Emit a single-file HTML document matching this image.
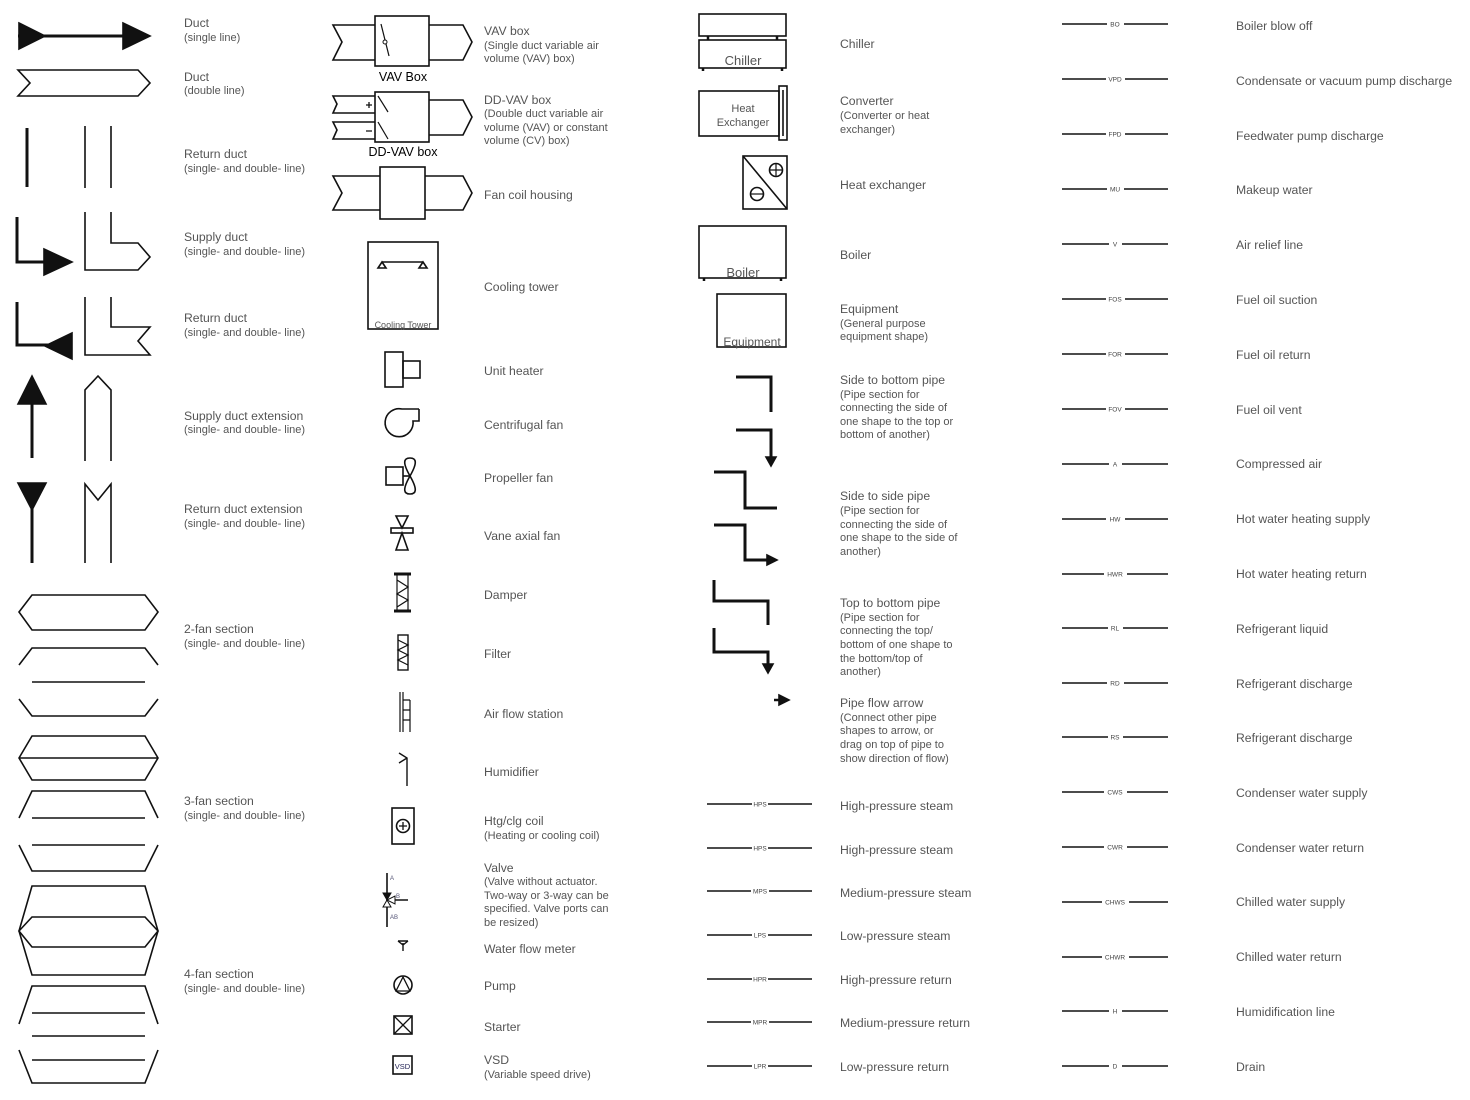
<!DOCTYPE html>
<html><head><meta charset="utf-8"><style>
html,body{margin:0;padding:0;background:#fff;}
svg{display:block;font-family:"Liberation Sans",sans-serif;}
.t{font-size:12.2px;fill:#555;}
.s{font-size:11px;fill:#555;}
.l{font-size:6.5px;fill:#444;text-anchor:middle;}
</style></head><body>
<svg width="1470" height="1100" viewBox="0 0 1470 1100" xmlns="http://www.w3.org/2000/svg">
<g fill="none" stroke="#111" stroke-width="1.6">
<line x1="18" y1="36" x2="128" y2="36" stroke-width="3"/>
<polygon points="19,23 45,36 19,49" fill="#111"/>
<polygon points="123,23 150,36 123,49" fill="#111"/>
<polygon points="18,70 138,70 150,83 138,96 18,96 30,83"/>
<line x1="27" y1="128" x2="27" y2="187" stroke-width="3"/>
<line x1="85" y1="126" x2="85" y2="188"/><line x1="111" y1="126" x2="111" y2="188"/>
<path d="M17 217 V262 H50" stroke-width="3"/>
<polygon points="44,249 72,262 44,275" fill="#111"/>
<path d="M85 212 V270 H138 L150 257 L138 243 H111 V212"/>
<path d="M17 302 V345 H50" stroke-width="3"/>
<polygon points="72,333 45,346 72,359" fill="#111"/>
<path d="M85 297 V355 H150 L138 341 L150 327 H111 V297"/>
<line x1="32" y1="395" x2="32" y2="458" stroke-width="3"/>
<polygon points="18,404 32,376 46,404" fill="#111"/>
<path d="M85 461 V390 L98 376 L111 390 V461"/>
<line x1="32" y1="500" x2="32" y2="563" stroke-width="3"/>
<polygon points="18,483 46,483 32,510" fill="#111"/>
<path d="M85 563 V484 L98 500 L111 484 V563"/>
<polygon points="19,612 32,595 145,595 158,612 145,630 32,630"/>
<polyline points="19,665 32,648 145,648 158,665"/>
<line x1="32" y1="682" x2="145" y2="682"/>
<polyline points="19,699 32,716 145,716 158,699"/>
<polygon points="19,758 32,736 145,736 158,758 145,780 32,780"/>
<line x1="19" y1="758" x2="158" y2="758"/>
<polyline points="19,818 32,791 145,791 158,818"/>
<line x1="32" y1="818" x2="145" y2="818"/><line x1="32" y1="845" x2="145" y2="845"/>
<polyline points="19,845 32,871 145,871 158,845"/>
<polygon points="32,886 145,886 158,931 145,975 32,975 19,931"/>
<polygon points="19,931 32,917 145,917 158,931 145,947 32,947"/>
<polyline points="19,1024 32,986 145,986 158,1024"/>
<line x1="32" y1="1013" x2="145" y2="1013"/><line x1="32" y1="1036" x2="145" y2="1036"/><line x1="32" y1="1060" x2="145" y2="1060"/>
<polyline points="19,1050 32,1083 145,1083 158,1050"/>
<path d="M375 25 H333 L342 42 L333 60 H375"/><rect x="375" y="16" width="54" height="50"/>
<path d="M429 25 H463 L472 42 L463 60 H429"/>
<line x1="381" y1="24" x2="389" y2="56" stroke-width="1.2"/><circle cx="385" cy="42" r="2" fill="#fff" stroke-width="1"/>
<path d="M375 96 H333 L337 104 L333 113 H375 M375 122 H333 L337 130 L333 139 H375"/>
<rect x="375" y="92" width="54" height="50"/>
<path d="M429 100 H463 L472 117 L463 135 H429"/>
<line x1="378" y1="96" x2="388" y2="112" stroke-width="1.2"/><line x1="378" y1="122" x2="388" y2="139" stroke-width="1.2"/>
<path d="M366 105 h6 M369 102 v6 M366 131 h6" stroke-width="1.3"/>
<path d="M380 176 H333 L342 193 L333 210 H380"/><rect x="380" y="167" width="45" height="52"/>
<path d="M425 176 H463 L472 193 L463 210 H425"/>
<rect x="368" y="242" width="70" height="87"/>
<line x1="382" y1="262" x2="423" y2="262"/>
<polygon points="382,262 378,268 386,268"/><polygon points="423,262 419,268 427,268"/>
<rect x="385" y="352" width="18" height="35"/><rect x="403" y="361" width="17" height="17"/>
<path d="M419 409 V421 H413 A14 14 0 1 1 402 409 H419"/>
<rect x="386" y="467" width="17" height="18"/><line x1="403" y1="476" x2="410" y2="476"/>
<path d="M410 476 C402 462 404 458 410 458 C416 458 418 462 410 476 C402 490 404 494 410 494 C416 494 418 490 410 476"/>
<polygon points="396,516 408,516 402,528"/><rect x="391" y="528" width="22" height="5"/><polygon points="402,533 396,550 408,550"/>
<path d="M394 574 H411 M394 611 H411" stroke-width="3"/>
<path d="M397 574 V611 M408 574 V611 M397 580 L408 587 L397 594 L408 600 L397 607" stroke-width="1.2"/>
<rect x="398" y="635" width="10" height="35" stroke-width="1.4"/>
<path d="M398 640 L408 645 L398 650 L408 655 L398 660 L408 665" stroke-width="1.2"/>
<path d="M400 692 V732 M403 692 V732 M403 700 H410 M403 710 H410 M403 720 H410 M410 700 V732" stroke-width="1.2"/>
<path d="M407 786 V758 L399 753 M407 758 L399 763" stroke-width="1.4"/>
<rect x="392" y="808" width="22" height="36"/><circle cx="403" cy="826" r="6.5"/><path d="M399 826 h8 M403 822 v8" stroke-width="1.3"/>
<line x1="387" y1="873" x2="387" y2="927"/><line x1="387" y1="900" x2="408" y2="900"/>
<polygon points="383,893 391,893 387,900" fill="#111" stroke-width="1"/>
<polygon points="383,907 391,907 387,900" fill="#fff" stroke-width="1"/>
<polygon points="395,896 395,904 387,900" fill="#fff" stroke-width="1"/>
<path d="M403 951 V943 M398 941 H408 M398 941 L403 945 L408 941" stroke-width="1.4"/>
<circle cx="403" cy="985" r="9"/><polygon points="403,977 396,991 410,991" stroke-width="1.3"/>
<rect x="394" y="1016" width="18" height="18"/><path d="M394 1016 L412 1034 M412 1016 L394 1034" stroke-width="1.3"/>
<rect x="393" y="1056" width="19" height="18"/>
<rect x="699" y="14" width="87" height="22"/><rect x="699" y="40" width="87" height="28"/>
<path d="M708 36 V40 M777 36 V40 M703 68 V71 M782 68 V71" stroke-width="2.5"/>
<rect x="699" y="91" width="80" height="45"/><rect x="779" y="86" width="8" height="54"/><line x1="783" y1="90" x2="783" y2="136"/>
<rect x="743" y="156" width="44" height="53"/><line x1="743" y1="156" x2="787" y2="209"/>
<circle cx="776" cy="170" r="6.5"/><path d="M770 170 h12 M776 164 v12" stroke-width="1.2"/>
<circle cx="757" cy="194" r="6.5"/><path d="M751 194 h12" stroke-width="1.2"/>
<rect x="699" y="226" width="87" height="52"/><path d="M704 278 V281 M781 278 V281" stroke-width="2.5"/>
<rect x="717" y="294" width="69" height="53"/>
<g stroke-width="3">
<path d="M736 377 H771 V412"/>
<path d="M736 430 H771 V458"/>
<path d="M714 472 H745 V508 H777"/>
<path d="M714 525 H745 V560 H768"/>
<path d="M714 580 V601 H768 V625"/>
<path d="M714 628 V652 H768 V665"/>
</g>
<polygon points="766,457 776,457 771,466" fill="#111"/>
<polygon points="767,555 777,560 767,565" fill="#111"/>
<polygon points="763,664 773,664 768,673" fill="#111"/>
<line x1="774" y1="700" x2="780" y2="700" stroke-width="2.5"/><polygon points="779,695 789,700 779,705" fill="#111"/>
</g>
<g stroke="#111" stroke-width="1.6">
<line x1="707" y1="804" x2="752" y2="804"/><line x1="768" y1="804" x2="812" y2="804"/>
<line x1="707" y1="848" x2="752" y2="848"/><line x1="768" y1="848" x2="812" y2="848"/>
<line x1="707" y1="891" x2="751" y2="891"/><line x1="769" y1="891" x2="812" y2="891"/>
<line x1="707" y1="935" x2="752" y2="935"/><line x1="768" y1="935" x2="812" y2="935"/>
<line x1="707" y1="979" x2="752" y2="979"/><line x1="768" y1="979" x2="812" y2="979"/>
<line x1="707" y1="1022" x2="751" y2="1022"/><line x1="769" y1="1022" x2="812" y2="1022"/>
<line x1="707" y1="1066" x2="752" y2="1066"/><line x1="768" y1="1066" x2="812" y2="1066"/>
<line x1="1062" y1="24" x2="1107" y2="24"/><line x1="1124" y1="24" x2="1168" y2="24"/>
<line x1="1062" y1="79" x2="1106" y2="79"/><line x1="1125" y1="79" x2="1168" y2="79"/>
<line x1="1062" y1="134" x2="1106" y2="134"/><line x1="1125" y1="134" x2="1168" y2="134"/>
<line x1="1062" y1="189" x2="1107" y2="189"/><line x1="1124" y1="189" x2="1168" y2="189"/>
<line x1="1062" y1="244" x2="1109" y2="244"/><line x1="1122" y1="244" x2="1168" y2="244"/>
<line x1="1062" y1="299" x2="1106" y2="299"/><line x1="1125" y1="299" x2="1168" y2="299"/>
<line x1="1062" y1="354" x2="1106" y2="354"/><line x1="1125" y1="354" x2="1168" y2="354"/>
<line x1="1062" y1="409" x2="1106" y2="409"/><line x1="1125" y1="409" x2="1168" y2="409"/>
<line x1="1062" y1="464" x2="1109" y2="464"/><line x1="1122" y1="464" x2="1168" y2="464"/>
<line x1="1062" y1="519" x2="1106" y2="519"/><line x1="1125" y1="519" x2="1168" y2="519"/>
<line x1="1062" y1="574" x2="1104" y2="574"/><line x1="1127" y1="574" x2="1168" y2="574"/>
<line x1="1062" y1="628" x2="1108" y2="628"/><line x1="1123" y1="628" x2="1168" y2="628"/>
<line x1="1062" y1="683" x2="1107" y2="683"/><line x1="1124" y1="683" x2="1168" y2="683"/>
<line x1="1062" y1="737" x2="1108" y2="737"/><line x1="1123" y1="737" x2="1168" y2="737"/>
<line x1="1062" y1="792" x2="1104" y2="792"/><line x1="1127" y1="792" x2="1168" y2="792"/>
<line x1="1062" y1="847" x2="1104" y2="847"/><line x1="1127" y1="847" x2="1168" y2="847"/>
<line x1="1062" y1="902" x2="1102" y2="902"/><line x1="1129" y1="902" x2="1168" y2="902"/>
<line x1="1062" y1="957" x2="1102" y2="957"/><line x1="1129" y1="957" x2="1168" y2="957"/>
<line x1="1062" y1="1011" x2="1109" y2="1011"/><line x1="1122" y1="1011" x2="1168" y2="1011"/>
<line x1="1062" y1="1066" x2="1109" y2="1066"/><line x1="1122" y1="1066" x2="1168" y2="1066"/>
</g>
<g class="l">
<text x="760" y="806.5">HPS</text><text x="760" y="850.5">HPS</text><text x="760" y="893.5">MPS</text><text x="760" y="937.5">LPS</text><text x="760" y="981.5">HPR</text><text x="760" y="1024.5">MPR</text><text x="760" y="1068.5">LPR</text>
<text x="1115" y="26.5">BO</text><text x="1115" y="81.5">VPD</text><text x="1115" y="136.5">FPD</text><text x="1115" y="191.5">MU</text><text x="1115" y="246.5">V</text><text x="1115" y="301.5">FOS</text><text x="1115" y="356.5">FOR</text><text x="1115" y="411.5">FOV</text><text x="1115" y="466.5">A</text><text x="1115" y="521.5">HW</text><text x="1115" y="576.5">HWR</text><text x="1115" y="630.5">RL</text><text x="1115" y="685.5">RD</text><text x="1115" y="739.5">RS</text><text x="1115" y="794.5">CWS</text><text x="1115" y="849.5">CWR</text><text x="1115" y="904.5">CHWS</text><text x="1115" y="959.5">CHWR</text><text x="1115" y="1013.5">H</text><text x="1115" y="1068.5">D</text>
</g>
<text x="403" y="81" font-size="12.5" text-anchor="middle" fill="#000">VAV Box</text>
<text x="403" y="156" font-size="12.5" text-anchor="middle" fill="#000">DD-VAV box</text>
<text x="403" y="328" font-size="9" text-anchor="middle" fill="#555">Cooling Tower</text>
<text x="390" y="880" font-size="6" fill="#557">A</text><text x="396" y="898" font-size="6" fill="#557">B</text><text x="390" y="919" font-size="6" fill="#557">AB</text>
<text x="402.5" y="1069" font-size="7.5" text-anchor="middle" fill="#225">VSD</text>
<text x="743" y="65" font-size="13" text-anchor="middle" fill="#555">Chiller</text>
<text x="743" y="112" font-size="11" text-anchor="middle" fill="#555">Heat</text>
<text x="743" y="126" font-size="11" text-anchor="middle" fill="#555">Exchanger</text>
<text x="743" y="277" font-size="13" text-anchor="middle" fill="#555">Boiler</text>
<text x="752" y="346" font-size="12" text-anchor="middle" fill="#555">Equipment</text>
<text class="t" x="184" y="27">Duct</text><text class="s" x="184" y="41">(single line)</text>
<text class="t" x="184" y="81">Duct</text><text class="s" x="184" y="94">(double line)</text>
<text class="t" x="184" y="158">Return duct</text><text class="s" x="184" y="172">(single- and double- line)</text>
<text class="t" x="184" y="241">Supply duct</text><text class="s" x="184" y="255">(single- and double- line)</text>
<text class="t" x="184" y="322">Return duct</text><text class="s" x="184" y="336">(single- and double- line)</text>
<text class="t" x="184" y="420">Supply duct extension</text><text class="s" x="184" y="433">(single- and double- line)</text>
<text class="t" x="184" y="513">Return duct extension</text><text class="s" x="184" y="527">(single- and double- line)</text>
<text class="t" x="184" y="633">2-fan section</text><text class="s" x="184" y="647">(single- and double- line)</text>
<text class="t" x="184" y="805">3-fan section</text><text class="s" x="184" y="819">(single- and double- line)</text>
<text class="t" x="184" y="978">4-fan section</text><text class="s" x="184" y="992">(single- and double- line)</text>
<text class="t" x="484" y="35">VAV box</text><text class="s" x="484" y="49">(Single duct variable air</text><text class="s" x="484" y="62">volume (VAV) box)</text>
<text class="t" x="484" y="104">DD-VAV box</text><text class="s" x="484" y="117">(Double duct variable air</text><text class="s" x="484" y="131">volume (VAV) or constant</text><text class="s" x="484" y="144">volume (CV) box)</text>
<text class="t" x="484" y="199">Fan coil housing</text>
<text class="t" x="484" y="291">Cooling tower</text>
<text class="t" x="484" y="375">Unit heater</text>
<text class="t" x="484" y="429">Centrifugal fan</text>
<text class="t" x="484" y="482">Propeller fan</text>
<text class="t" x="484" y="540">Vane axial fan</text>
<text class="t" x="484" y="599">Damper</text>
<text class="t" x="484" y="658">Filter</text>
<text class="t" x="484" y="718">Air flow station</text>
<text class="t" x="484" y="776">Humidifier</text>
<text class="t" x="484" y="825">Htg/clg coil</text><text class="s" x="484" y="839">(Heating or cooling coil)</text>
<text class="t" x="484" y="872">Valve</text><text class="s" x="484" y="885">(Valve without actuator.</text><text class="s" x="484" y="899">Two-way or 3-way can be</text><text class="s" x="484" y="912">specified. Valve ports can</text><text class="s" x="484" y="926">be resized)</text>
<text class="t" x="484" y="953">Water flow meter</text>
<text class="t" x="484" y="990">Pump</text>
<text class="t" x="484" y="1031">Starter</text>
<text class="t" x="484" y="1064">VSD</text><text class="s" x="484" y="1078">(Variable speed drive)</text>
<text class="t" x="840" y="48">Chiller</text>
<text class="t" x="840" y="105">Converter</text><text class="s" x="840" y="119">(Converter or heat</text><text class="s" x="840" y="133">exchanger)</text>
<text class="t" x="840" y="189">Heat exchanger</text>
<text class="t" x="840" y="259">Boiler</text>
<text class="t" x="840" y="313">Equipment</text><text class="s" x="840" y="327">(General purpose</text><text class="s" x="840" y="340">equipment shape)</text>
<text class="t" x="840" y="384">Side to bottom pipe</text><text class="s" x="840" y="398">(Pipe section for</text><text class="s" x="840" y="411">connecting the side of</text><text class="s" x="840" y="425">one shape to the top or</text><text class="s" x="840" y="438">bottom of another)</text>
<text class="t" x="840" y="500">Side to side pipe</text><text class="s" x="840" y="514">(Pipe section for</text><text class="s" x="840" y="528">connecting the side of</text><text class="s" x="840" y="541">one shape to the side of</text><text class="s" x="840" y="555">another)</text>
<text class="t" x="840" y="607">Top to bottom pipe</text><text class="s" x="840" y="621">(Pipe section for</text><text class="s" x="840" y="634">connecting the top/</text><text class="s" x="840" y="648">bottom of one shape to</text><text class="s" x="840" y="662">the bottom/top of</text><text class="s" x="840" y="675">another)</text>
<text class="t" x="840" y="707">Pipe flow arrow</text><text class="s" x="840" y="721">(Connect other pipe</text><text class="s" x="840" y="734">shapes to arrow, or</text><text class="s" x="840" y="748">drag on top of pipe to</text><text class="s" x="840" y="762">show direction of flow)</text>
<text class="t" x="840" y="810">High-pressure steam</text>
<text class="t" x="840" y="854">High-pressure steam</text>
<text class="t" x="840" y="897">Medium-pressure steam</text>
<text class="t" x="840" y="940">Low-pressure steam</text>
<text class="t" x="840" y="984">High-pressure return</text>
<text class="t" x="840" y="1027">Medium-pressure return</text>
<text class="t" x="840" y="1071">Low-pressure return</text>
<text class="t" x="1236" y="30">Boiler blow off</text>
<text class="t" x="1236" y="85">Condensate or vacuum pump discharge</text>
<text class="t" x="1236" y="140">Feedwater pump discharge</text>
<text class="t" x="1236" y="194">Makeup water</text>
<text class="t" x="1236" y="249">Air relief line</text>
<text class="t" x="1236" y="304">Fuel oil suction</text>
<text class="t" x="1236" y="359">Fuel oil return</text>
<text class="t" x="1236" y="414">Fuel oil vent</text>
<text class="t" x="1236" y="468">Compressed air</text>
<text class="t" x="1236" y="523">Hot water heating supply</text>
<text class="t" x="1236" y="578">Hot water heating return</text>
<text class="t" x="1236" y="633">Refrigerant liquid</text>
<text class="t" x="1236" y="688">Refrigerant discharge</text>
<text class="t" x="1236" y="742">Refrigerant discharge</text>
<text class="t" x="1236" y="797">Condenser water supply</text>
<text class="t" x="1236" y="852">Condenser water return</text>
<text class="t" x="1236" y="906">Chilled water supply</text>
<text class="t" x="1236" y="961">Chilled water return</text>
<text class="t" x="1236" y="1016">Humidification line</text>
<text class="t" x="1236" y="1071">Drain</text>
</svg>
</body></html>
